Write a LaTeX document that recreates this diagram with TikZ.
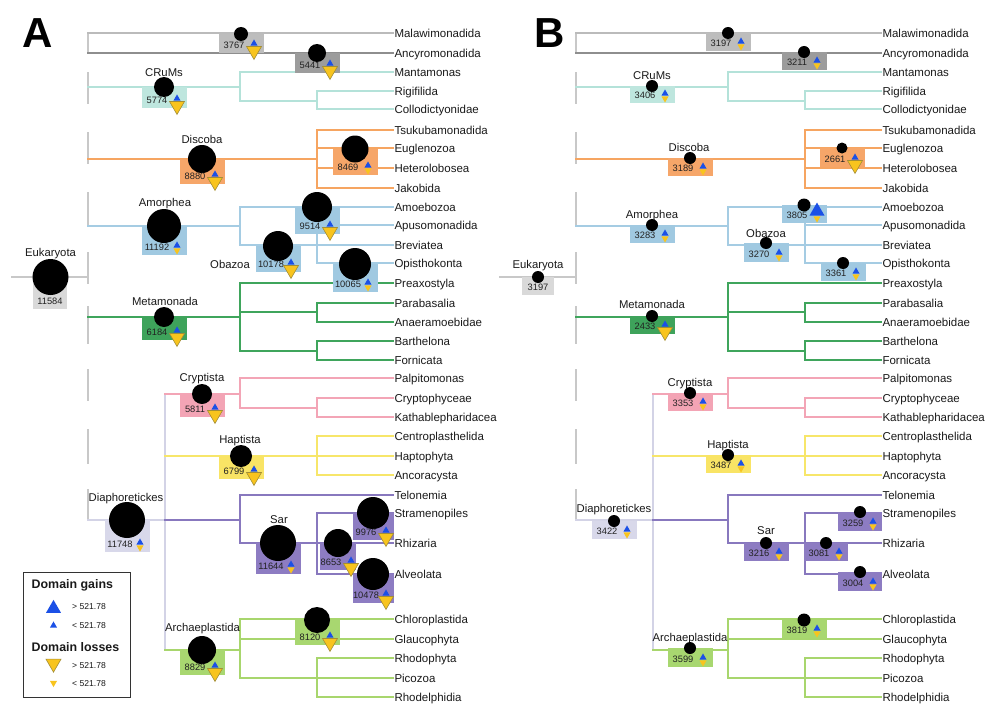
\documentclass[tikz,border=0pt]{standalone}
\usepackage{fontspec}
\setmainfont{Liberation Sans}
\usetikzlibrary{shapes.geometric}
\definecolor{cRoot}{HTML}{C8C8C8}
\definecolor{cG1}{HTML}{BBBBBB}
\definecolor{cG2}{HTML}{8E8E8E}
\definecolor{cTeal}{HTML}{B4E2D9}
\definecolor{cOr}{HTML}{F6A561}
\definecolor{cBl}{HTML}{A5CCE3}
\definecolor{cGr}{HTML}{3FA55C}
\definecolor{cPk}{HTML}{F3A5B6}
\definecolor{cYe}{HTML}{F7E66A}
\definecolor{cPu}{HTML}{8878BE}
\definecolor{cLG}{HTML}{A8D66D}
\definecolor{cLav}{HTML}{D3D3E6}
\definecolor{bG1}{HTML}{BDBDBD}
\definecolor{bG2}{HTML}{9C9C9C}
\definecolor{bTeal}{HTML}{BEE6DE}
\definecolor{bOr}{HTML}{F6A669}
\definecolor{bBl}{HTML}{A0C9E1}
\definecolor{bEuk}{HTML}{D9D9D9}
\definecolor{bGr}{HTML}{3EA35B}
\definecolor{bPk}{HTML}{F3A4B5}
\definecolor{bYe}{HTML}{F9E465}
\definecolor{bLav}{HTML}{D8D8EA}
\definecolor{bPu}{HTML}{8D7CC2}
\definecolor{bLG}{HTML}{A8D770}
\definecolor{gainc}{HTML}{1B50E6}
\definecolor{lossc}{HTML}{F8C41E}
\definecolor{lossd}{HTML}{A38E36}
\definecolor{txt}{HTML}{1A1A1A}
\definecolor{numc}{HTML}{222222}
\definecolor{legd}{HTML}{333333}

\tikzset{
 br/.style={line width=2pt, line cap=rect},
 ebox/.style={rectangle, inner sep=0pt, outer sep=0pt, draw=none},
 dot/.style={circle, fill=black, inner sep=0pt, outer sep=0pt},
 num/.style={font=\fontsize{9.3}{10}\selectfont, text=numc, inner sep=0pt, text height=6.6pt, text depth=0pt},
 leafl/.style={anchor=west, inner sep=1.5pt, outer sep=0pt, font=\fontsize{11.5}{13}\selectfont, text height=8.3pt, text depth=0pt, text=txt},
 clade/.style={inner sep=0pt, font=\fontsize{11.3}{13}\selectfont, text height=8.1pt, text depth=0pt, text=txt},
 tri/.style={regular polygon, regular polygon sides=3, inner sep=0pt, outer sep=0pt},
 gS/.style={tri, fill=gainc, minimum size=8.1pt},
 gB/.style={tri, fill=gainc, minimum size=17.3pt},
 lS/.style={tri, shape border rotate=180, fill=lossc, minimum size=8.1pt},
 lB/.style={tri, shape border rotate=180, fill=lossc, draw=lossd, line width=0.6pt, minimum size=17.3pt},
 gainS/.style={gS, yshift=2.5pt},
 gainB/.style={gB, yshift=4.8pt},
 lossS/.style={lS, yshift=-2.5pt},
 lossB/.style={lB, yshift=-4.8pt},
 legt/.style={anchor=west, inner sep=0pt, font=\fontsize{8.6}{10}\selectfont, text=txt, text height=6.2pt, text depth=0pt},
 legh/.style={anchor=west, inner sep=0pt, font=\fontsize{12.4}{14}\selectfont\bfseries, text=txt, text height=8.9pt, text depth=0pt},
 panel/.style={inner sep=0pt, font=\fontsize{42}{44}\selectfont\bfseries, text=black, text height=30pt, text depth=0pt},
}

% leaf: name, start x, y, line style, text
\newcommand\leaf[5]{%
  \coordinate (#1-s) at (#2,#3);
  \node[leafl] (#1) at (393,#3) {#5};
  \draw[br,#4] (#1-s) -- (#1.west);}

\newcommand\skeleton{%
  \foreach \a/\b [count=\i] in {33/53,73/103,133/163,193/226,253/283,307/343,370/400,430/463,490/520}{
    \coordinate (rs\i-a) at (88,\a); \coordinate (rs\i-b) at (88,\b);
    \draw[br,cRoot] (rs\i-a) -- (rs\i-b);}
  \coordinate (euk-s) at (12,277); \coordinate (euk-e) at (88,277);
  \draw[br,cRoot] (euk-s) -- (euk-e);
  % Malawimonadida / Ancyromonadida
  \leaf{Mal}{88}{33}{cG1,line width=2.6pt}{Malawimonadida}
  \leaf{Anc}{88}{53}{cG2,line width=2.6pt}{Ancyromonadida}
  % CRuMs
  \coordinate (cr0) at (88,87); \coordinate (cr1) at (240,87);
  \draw[br,cTeal] (cr0) -- (cr1);
  \leaf{Man}{240}{72}{cTeal}{Mantamonas}
  \coordinate (cr2) at (240,101); \coordinate (cr3) at (317,101);
  \draw[br,cTeal] (Man-s) -- (cr2) -- (cr3);
  \leaf{Rig}{317}{91}{cTeal}{Rigifilida}
  \leaf{Col}{317}{109}{cTeal}{Collodictyonidae}
  \draw[br,cTeal] (Rig-s) -- (Col-s);
  % Discoba
  \coordinate (ds0) at (88,159); \coordinate (ds1) at (317,159);
  \draw[br,cOr] (ds0) -- (ds1);
  \leaf{Tsu}{317}{130}{cOr}{Tsukubamonadida}
  \leaf{Eug}{317}{148}{cOr}{Euglenozoa}
  \leaf{Het}{317}{168}{cOr}{Heterolobosea}
  \leaf{Jak}{317}{188}{cOr}{Jakobida}
  \draw[br,cOr] (Tsu-s) -- (Jak-s);
  % Amorphea
  \coordinate (am0) at (88,226); \coordinate (am1) at (240,226);
  \draw[br,cBl] (am0) -- (am1);
  \leaf{Amo}{240}{207}{cBl}{Amoebozoa}
  \leaf{Bre}{240}{245}{cBl}{Breviatea}
  \draw[br,cBl] (Amo-s) -- (Bre-s);
  \leaf{Apu}{317}{225}{cBl}{Apusomonadida}
  \leaf{Opi}{317}{263}{cBl}{Opisthokonta}
  \coordinate (am2) at (317,207);
  \draw[br,cBl] (am2) -- (Opi-s);
  % Metamonada
  \coordinate (me0) at (88,317); \coordinate (me1) at (240,317);
  \draw[br,cGr] (me0) -- (me1);
  \leaf{Pre}{240}{283}{cGr}{Preaxostyla}
  \coordinate (me2) at (240,351);
  \draw[br,cGr] (Pre-s) -- (me2);
  \coordinate (me3) at (240,312); \coordinate (me4) at (317,312);
  \draw[br,cGr] (me3) -- (me4);
  \leaf{Par}{317}{303}{cGr}{Parabasalia}
  \leaf{Ana}{317}{322}{cGr}{Anaeramoebidae}
  \draw[br,cGr] (Par-s) -- (Ana-s);
  \coordinate (me5) at (317,351);
  \draw[br,cGr] (me2) -- (me5);
  \leaf{Bar}{317}{341}{cGr}{Barthelona}
  \leaf{For}{317}{360}{cGr}{Fornicata}
  \draw[br,cGr] (Bar-s) -- (For-s);
  % Diaphoretickes
  \coordinate (di0) at (88,520); \coordinate (di1) at (165,520);
  \draw[br,cLav] (di0) -- (di1);
  \coordinate (di2) at (165,394); \coordinate (di3) at (165,650);
  \draw[br,cLav] (di2) -- (di3);
  % Cryptista
  \coordinate (cy1) at (240,394);
  \draw[br,cPk] (di2) -- (cy1);
  \leaf{Pal}{240}{378}{cPk}{Palpitomonas}
  \coordinate (cy2) at (240,408); \coordinate (cy3) at (317,408);
  \draw[br,cPk] (Pal-s) -- (cy2) -- (cy3);
  \leaf{Cry}{317}{398}{cPk}{Cryptophyceae}
  \leaf{Kat}{317}{417}{cPk}{Kathablepharidacea}
  \draw[br,cPk] (Cry-s) -- (Kat-s);
  % Haptista
  \coordinate (ha0) at (165,456);
  \leaf{Cen}{317}{436}{cYe}{Centroplasthelida}
  \leaf{Hap}{317}{456}{cYe}{Haptophyta}
  \leaf{Anco}{317}{475}{cYe}{Ancoracysta}
  \draw[br,cYe] (Cen-s) -- (Anco-s);
  \draw[br,cYe] (ha0) -- (Hap-s);
  % Sar
  \coordinate (sa0) at (165,520); \coordinate (sa1) at (240,520);
  \draw[br,cPu] (sa0) -- (sa1);
  \leaf{Tel}{240}{495}{cPu}{Telonemia}
  \coordinate (sa2) at (240,543);
  \draw[br,cPu] (Tel-s) -- (sa2);
  \leaf{Rhi}{240}{543}{cPu}{Rhizaria}
  \leaf{Str}{317}{513}{cPu}{Stramenopiles}
  \leaf{Alv}{317}{574}{cPu}{Alveolata}
  \draw[br,cPu] (Str-s) -- (Alv-s);
  % Archaeplastida
  \coordinate (ar0) at (165,650); \coordinate (ar1) at (240,650);
  \draw[br,cLG] (ar0) -- (ar1);
  \leaf{Chl}{240}{619}{cLG}{Chloroplastida}
  \leaf{Gla}{240}{639}{cLG}{Glaucophyta}
  \leaf{Pic}{240}{678}{cLG}{Picozoa}
  \draw[br,cLG] (Chl-s) -- (Pic-s);
  \leaf{Rho}{317}{658}{cLG}{Rhodophyta}
  \leaf{Rhd}{317}{697}{cLG}{Rhodelphidia}
  \draw[br,cLG] (Rho-s) -- (Rhd-s);
}

\newcommand\trip[3]{%
  \ifx s#3\node[lossS] (#1-l) at (#1-j) {};\fi
  \ifx b#3\node[lossB] (#1-l) at (#1-j) {};\fi
  \ifx s#2\node[gainS] (#1-g) at (#1-j) {};\fi
  \ifx b#2\node[gainB] (#1-g) at (#1-j) {};\fi}

% [width]{name}{cx}{cy}{r}{bottom}{color}{number}{gain/loss}
\newcommand\enode[9][45]{%
  \node[ebox, fill=#7, minimum width=#1pt, minimum height={#6-#4}, anchor=north] (#2) at (#3,#4) {};
  \node[dot, minimum size={2*#5}] (#2-c) at (#3,#4) {};
  \node[num] (#2-n) at ({#3-7},{#6-8}) {#8};
  \coordinate (#2-j) at ({#3+13},{#6-7});
  \trip{#2}#9}

\begin{document}
\begin{tikzpicture}[x=1pt,y=-1pt]
\useasboundingbox (0,0) rectangle (1000,725);
\fill[white] (0,0) rectangle (1000,725);

\begin{scope}[name prefix=A-]
  \skeleton
\end{scope}
\begin{scope}[xshift=488pt, name prefix=B-]
  \skeleton
\end{scope}

% panel letters
\node[panel] (pA) at (37.5,33) {A};
\node[panel] (pB) at (550,33) {B};

% clade labels A
\node[clade] (lAcr) at (164,72) {CRuMs};
\node[clade] (lAdi) at (202,139.5) {Discoba};
\node[clade] (lAam) at (165,202.5) {Amorphea};
\node[clade] (lAob) at (230,264) {Obazoa};
\node[clade] (lAeu) at (50.5,252.5) {Eukaryota};
\node[clade] (lAme) at (165,301) {Metamonada};
\node[clade] (lAcy) at (202,377.5) {Cryptista};
\node[clade] (lAha) at (240,439) {Haptista};
\node[clade] (lAdp) at (126,497) {Diaphoretickes};
\node[clade] (lAsa) at (279,519) {Sar};
\node[clade] (lAar) at (202.5,627.5) {Archaeplastida};
% clade labels B
\node[clade] (lBcr) at (652,75) {CRuMs};
\node[clade] (lBdi) at (689,147.5) {Discoba};
\node[clade] (lBam) at (652,214) {Amorphea};
\node[clade] (lBob) at (766,233) {Obazoa};
\node[clade] (lBeu) at (538,264) {Eukaryota};
\node[clade] (lBme) at (652,304.5) {Metamonada};
\node[clade] (lBcy) at (690,382) {Cryptista};
\node[clade] (lBha) at (728,444) {Haptista};
\node[clade] (lBdp) at (614,508.5) {Diaphoretickes};
\node[clade] (lBsa) at (766,530.5) {Sar};
\node[clade] (lBar) at (690,637) {Archaeplastida};

% Eukaryota nodes
\node[ebox, fill=bEuk, minimum width=34, minimum height=32, anchor=north] (Aeuk) at (50,277) {};
\node[dot, minimum size=36] (Aeuk-c) at (50.5,277) {};
\node[num] (Aeuk-n) at (50,301.5) {11584};
\node[ebox, fill=bEuk, minimum width=32, minimum height=18, anchor=north] (Beuk) at (538,277) {};
\node[dot, minimum size=12] (Beuk-c) at (538,277) {};
\node[num] (Beuk-n) at (538,287) {3197};

% A nodes
\enode{Amal}{241}{34}{7}{53}{bG1}{3767}{sb}
\enode{Aanc}{317}{53}{9}{73}{bG2}{5441}{sb}
\enode{Acrums}{164}{87}{10}{108}{bTeal}{5774}{sb}
\enode{Adisc}{202}{159}{14}{184}{bOr}{8880}{sb}
\enode{Aeug}{355}{149}{13.5}{175}{bOr}{8469}{ss}
\enode{Aamor}{164}{226}{17}{255}{bBl}{11192}{ss}
\enode{Aamoe}{317}{207}{15}{234}{bBl}{9514}{sb}
\enode{Aobaz}{278}{246}{15}{272}{bBl}{10178}{sb}
\enode{Aopis}{355}{264}{16}{292}{bBl}{10065}{ss}
\enode{Ameta}{164}{317}{10}{340}{bGr}{6184}{sb}
\enode{Acrypt}{202}{394}{10}{417}{bPk}{5811}{sb}
\enode{Ahapt}{241}{456}{11}{479}{bYe}{6799}{sb}
\enode{Adiaph}{127}{520}{18}{552}{bLav}{11748}{ss}
\enode{Asar}{278}{543}{18}{574}{bPu}{11644}{ss}
\enode[41]{Astram}{373}{513}{16}{540}{bPu}{9976}{sb}
\enode[36]{Arhiz}{338}{543}{14}{570}{bPu}{8653}{sb}
\enode[41]{Aalve}{373}{574}{16}{603}{bPu}{10478}{sb}
\enode{Achlo}{317}{620}{13}{645}{bLG}{8120}{sb}
\enode{Aarch}{202}{650}{14}{675}{bLG}{8829}{sb}

% B nodes
\enode{Bmal}{728}{33}{6}{51}{bG1}{3197}{ss}
\enode{Banc}{804}{52}{6}{70}{bG2}{3211}{ss}
\enode{Bcrums}{652}{86}{6}{103}{bTeal}{3406}{ss}
\enode{Bdisc}{690}{158}{6}{176}{bOr}{3189}{ss}
\enode{Beug}{842}{148}{5.5}{167}{bOr}{2661}{sb}
\enode{Bamor}{652}{225}{6}{243}{bBl}{3283}{ss}
\enode{Bamoe}{804}{205}{6.5}{223}{bBl}{3805}{bs}
\enode{Bobaz}{766}{243}{6}{262}{bBl}{3270}{ss}
\enode{Bopis}{843}{263}{6}{281}{bBl}{3361}{ss}
\enode{Bmeta}{652}{316}{6}{334}{bGr}{2433}{sb}
\enode{Bcrypt}{690}{393}{6}{411}{bPk}{3353}{ss}
\enode{Bhapt}{728}{455}{6}{473}{bYe}{3487}{ss}
\enode{Bdiaph}{614}{521}{6}{539}{bLav}{3422}{ss}
\enode{Bsar}{766}{543}{6}{561}{bPu}{3216}{ss}
\enode[44]{Bstram}{860}{512}{6}{531}{bPu}{3259}{ss}
\enode[44]{Brhiz}{826}{543}{6}{561}{bPu}{3081}{ss}
\enode[44]{Balve}{860}{572}{6}{591}{bPu}{3004}{ss}
\enode{Bchlo}{804}{620}{6.5}{638}{bLG}{3819}{ss}
\enode{Barch}{690}{648}{6}{667}{bLG}{3599}{ss}

% legend
\node[draw=legd, line width=1.3pt, rectangle, inner sep=0pt, minimum width=107, minimum height=125, anchor=north west] (leg) at (23,572) {};
\node[legh] (lgh1) at (31.5,584) {Domain gains};
\node[gB] (lgt1) at (53.5,608.5) {};
\node[legt] (lgx1) at (72,606.5) {> 521.78};
\node[gS] (lgt2) at (53.5,625.5) {};
\node[legt] (lgx2) at (72,625) {< 521.78};
\node[legh] (lgh2) at (31.5,647) {Domain losses};
\node[lB] (lgt3) at (53.5,663.5) {};
\node[legt] (lgx3) at (72,665) {> 521.78};
\node[lS] (lgt4) at (53.5,683) {};
\node[legt] (lgx4) at (72,683.5) {< 521.78};
\end{tikzpicture}
\end{document}
